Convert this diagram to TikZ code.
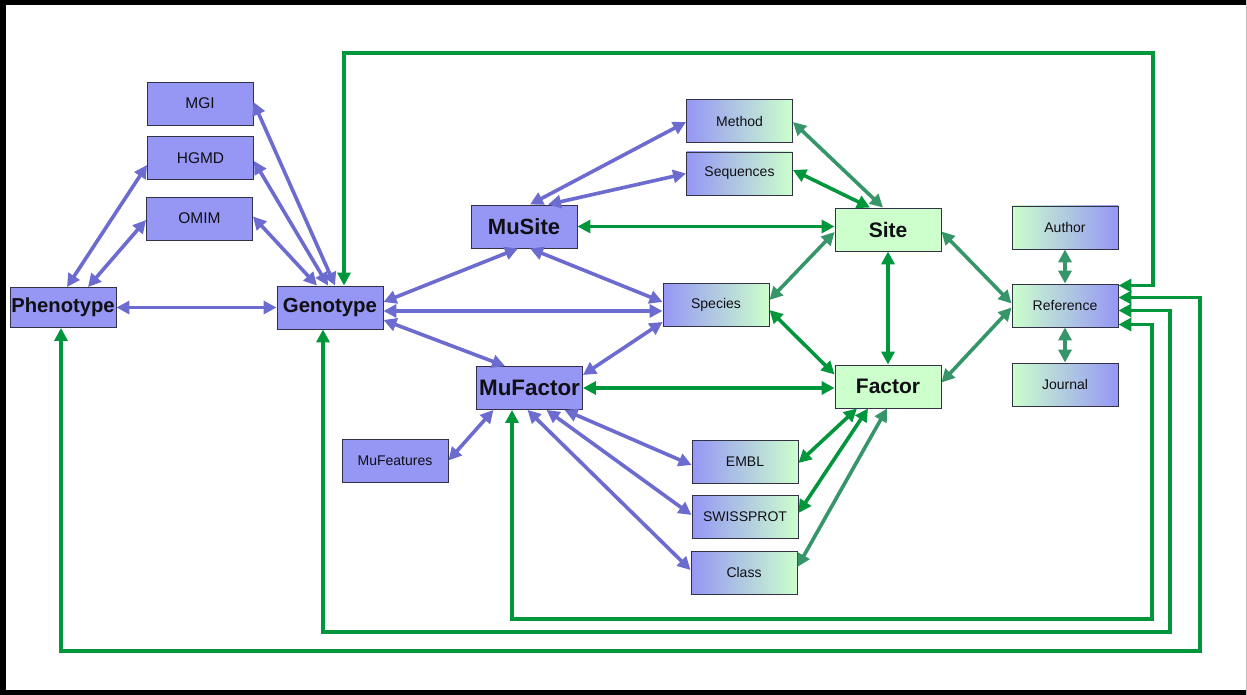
\documentclass[tikz,border=0pt]{standalone}
\usepackage{fontspec}
\setmainfont{Liberation Sans}
\usetikzlibrary{arrows.meta,calc}

\definecolor{boxblue}{RGB}{150,150,245}
\definecolor{boxgreen}{RGB}{204,255,204}
\definecolor{boxline}{RGB}{50,50,70}
\definecolor{arrblue}{RGB}{108,108,208}
\definecolor{arrgreen}{RGB}{0,150,60}
\definecolor{arrteal}{RGB}{55,150,105}
\definecolor{txt}{RGB}{15,15,20}

\tikzset{
  box/.style={draw=boxline, line width=0.9pt, minimum width=106pt, minimum height=43pt,
    inner sep=0pt, text=txt, font=\fontsize{14}{14}\selectfont},
  bluebox/.style={box, fill=boxblue},
  greenbox/.style={box, fill=boxgreen},
  bgbox/.style={box, left color=boxblue, right color=boxgreen},
  gbbox/.style={box, left color=boxgreen, right color=boxblue},
  dbfont/.style={font=\fontsize{15.5}{15.5}\selectfont},
  bigfont/.style={font=\bfseries\fontsize{#1}{#1}\selectfont},
  tip/.tip={Triangle[length=13pt,width=13pt]},
  link/.style={line width=3.6pt, tip-tip},
  bl/.style={link, draw=arrblue},
  gr/.style={link, draw=arrgreen},
  tl/.style={link, draw=arrteal},
  backlink/.style={line width=3.3pt, draw=arrgreen, tip-tip, line join=miter},
}

\begin{document}
\begin{tikzpicture}[x=1pt,y=-1pt]
\useasboundingbox (0,0) rectangle (1247,695);
\fill[white] (0,0) rectangle (1247,695);
% outer frame
\draw[black, line width=5.5pt] (1247,2.75) -- (2.75,2.75) -- (2.75,692.25) -- (1247,692.25);
\draw[gray!50, line width=1pt] (1246.5,0) -- (1246.5,695);

% external databases on the left
\node[bluebox, dbfont] (MGI)  at (200,103.5) {MGI};
\node[bluebox, dbfont] (HGMD) at (200.5,158) {HGMD};
\node[bluebox, dbfont] (OMIM) at (199.5,218.5) {OMIM};

% core tables
\node[bluebox, bigfont=20.2, minimum height=40pt] (Pheno) at (63,307.5) {Phenotype};
\node[bluebox, bigfont=20.4] (Geno)  at (330,307.5) {Genotype};
\node[bluebox, bigfont=22]   (MuSite) at (524,226.5) {MuSite};
\node[bluebox, bigfont=22.4] (MuFactor) at (529.5,388) {MuFactor};
\node[bluebox] (MuFeat) at (395,460.5) {MuFeatures};

\node[greenbox, bigfont=21] (Site)   at (888,229.5) {Site};
\node[greenbox, bigfont=21] (Factor) at (888,386.5) {Factor};

% shared lookup tables
\node[bgbox] (Method) at (739.5,121) {Method};
\node[bgbox] (Seq)    at (739.5,173.5) {Sequences};
\node[bgbox] (Species) at (716,305) {Species};
\node[bgbox] (EMBL)   at (745,462) {EMBL};
\node[bgbox] (Swiss)  at (745,517) {SWISSPROT};
\node[bgbox] (Class)  at (744,572.5) {Class};

\node[gbbox] (Author) at (1065,227.5) {Author};
\node[gbbox] (Ref)    at (1065,305.5) {Reference};
\node[gbbox] (Journal) at (1065,384.5) {Journal};

% ---- blue links ----
\draw[bl] ($(MGI.east)+(0,-1.5)$) -- ($(Geno.north)+(5,0)$);
\draw[bl] ($(HGMD.east)+(0,3)$) -- ($(Geno.north)+(-2,0)$);
\draw[bl] ($(OMIM.east)+(0,-2)$) -- ($(Geno.north)+(-13,0)$);
\draw[bl] ($(HGMD.west)+(0,7)$) -- ($(Pheno.north)+(4,0)$);
\draw[bl] ($(OMIM.west)+(0,1.5)$) -- ($(Pheno.north)+(25,0)$);
\draw[bl] (Pheno.east) -- (Geno.west);

\draw[bl] ($(Geno.east)+(0,-5.5)$) -- ($(MuSite.south)+(-6,0)$);
\draw[bl] ($(Geno.east)+(0,3.5)$) -- ($(Species.west)+(0,6)$);
\draw[bl] ($(Geno.east)+(0,12.5)$) -- ($(MuFactor.north)+(-24.5,0)$);
\draw[bl] ($(MuSite.south)+(6,0)$) -- ($(Species.west)+(0,-3)$);
\draw[bl] ($(MuFactor.east)+(0,-13)$) -- ($(Species.west)+(0,17)$);

\draw[bl] ($(MuSite.north)+(6,0)$) -- ($(Method.west)+(0,1)$);
\draw[bl] ($(MuSite.north)+(24,0)$) -- (Seq.west);

\draw[bl] (MuFeat.east) -- ($(MuFactor.south)+(-36,0)$);
\draw[bl] ($(MuFactor.south)+(35,0)$) -- ($(EMBL.west)+(0,3)$);
\draw[bl] ($(MuFactor.south)+(17,0)$) -- ($(Swiss.west)+(0,-2)$);
\draw[bl] ($(MuFactor.south)+(-2,0)$) -- ($(Class.west)+(0,-2.5)$);

% ---- green links ----
\draw[gr] (MuSite.east) -- ($(Site.west)+(0,-3)$);
\draw[gr] (MuFactor.east) -- ($(Factor.west)+(0,1.5)$);
\draw[tl] ($(Site.north)+(-5,0)$) -- ($(Method.east)+(0,1)$);
\draw[gr] ($(Site.north)+(-18,0)$) -- ($(Seq.east)+(0,-3.5)$);
\draw[tl] ($(Site.west)+(0,2.5)$) -- ($(Species.east)+(0,-5)$);
\draw[gr] ($(Species.east)+(0,5)$) -- ($(Factor.west)+(0,-12)$);
\draw[gr] (Site.south) -- (Factor.north);
\draw[tl] ($(Site.east)+(0,2)$) -- ($(Ref.west)+(0,-2)$);
\draw[tl] ($(Factor.east)+(0,-4)$) -- ($(Ref.west)+(0,2)$);
\draw[gr] ($(Factor.south)+(-31,0)$) -- ($(EMBL.east)+(0,1)$);
\draw[gr] ($(Factor.south)+(-20,0)$) -- ($(Swiss.east)+(0,-4)$);
\draw[tl] ($(Factor.south)+(-1,0)$) -- ($(Class.east)+(0,-5.5)$);
\draw[tl] (Author.south) -- (Ref.north);
\draw[tl] (Ref.south) -- (Journal.north);

% ---- reference back-links ----
\draw[backlink] ($(Ref.east)+(0,-20)$) -| (1153,53) -| ($(Geno.north)+(14,0)$);
\draw[backlink] ($(Ref.east)+(0,-8)$) -| (1200,651) -| ($(Pheno.south)+(-2,0)$);
\draw[backlink] ($(Ref.east)+(0,5)$) -| (1170,632) -| ($(Geno.south)+(-7,0)$);
\draw[backlink] ($(Ref.east)+(0,19)$) -| (1152,619) -| ($(MuFactor.south)+(-17.5,0)$);
\end{tikzpicture}
\end{document}
